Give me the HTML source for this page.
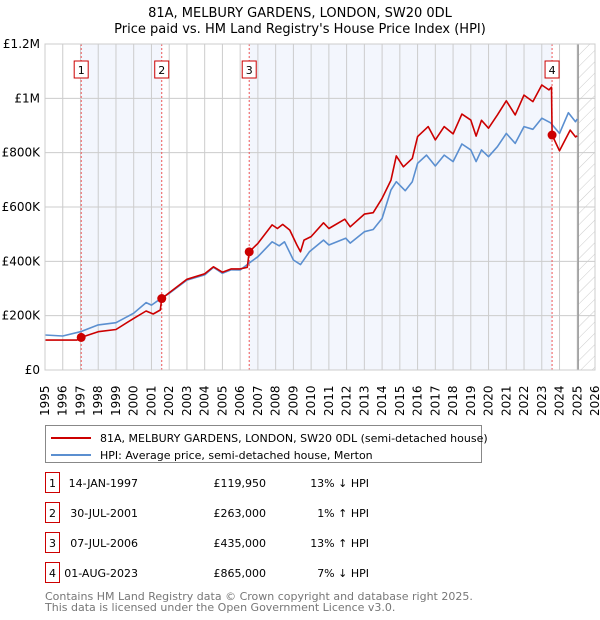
<!DOCTYPE html>
<html><head><meta charset="utf-8">
<style>
body{margin:0;background:#fff;font-family:"DejaVu Sans","Liberation Sans",sans-serif;}
#wrap{position:relative;width:600px;height:620px;overflow:hidden;}
svg text{font-family:"DejaVu Sans","Liberation Sans",sans-serif;}
</style></head><body>
<div id="wrap">
<svg id="c" width="600" height="620" xmlns="http://www.w3.org/2000/svg"></svg>
</div>
<script>
const hpiYears=[1995,1996,1997,1998,1999,2000,2000.7,2001,2001.6,2002,2003,2004,2004.5,2005,2005.5,2006,2006.5,2007,2007.8,2008.2,2008.5,2009,2009.4,2009.9,2010.7,2011,2011.95,2012.2,2013,2013.5,2014,2014.5,2014.8,2015.3,2015.7,2016,2016.5,2017,2017.5,2018,2018.5,2019,2019.3,2019.6,2020,2020.5,2021,2021.5,2022,2022.5,2023,2023.5,2024,2024.5,2024.9,2025];
const hpiValues=[129000,125000,141000,166000,174000,209000,248000,239000,266000,282000,331000,350000,378000,356000,369000,368000,393000,417000,472000,457000,472000,405000,388000,435000,478000,460000,485000,467000,509000,517000,558000,663000,693000,660000,693000,761000,791000,751000,791000,767000,832000,810000,767000,810000,785000,822000,871000,834000,896000,886000,927000,910000,871000,947000,914000,924000];
const propYears=[1995,1996.8,1997.04,1998,1999,2000,2000.7,2001.1,2001.5,2001.58,2002,2003,2004,2004.5,2005,2005.5,2006,2006.4,2006.51,2007,2007.8,2008.1,2008.4,2008.8,2009.2,2009.4,2009.6,2010,2010.7,2011,2011.9,2012.2,2013,2013.5,2014,2014.5,2014.8,2015.2,2015.7,2016,2016.6,2017,2017.5,2018,2018.5,2019,2019.3,2019.6,2020,2020.5,2021,2021.5,2022,2022.5,2023,2023.4,2023.55,2023.58,2024,2024.6,2024.9,2025];
const propValues=[110000,110000,119950,141000,149000,190000,217000,206000,221000,263000,284000,334000,354000,380000,360000,372000,372000,378000,435000,466000,534000,521000,536000,515000,460000,435000,478000,491000,542000,521000,555000,527000,574000,579000,632000,699000,788000,748000,779000,859000,896000,847000,896000,869000,942000,920000,861000,919000,890000,939000,991000,939000,1012000,988000,1049000,1031000,1041000,865000,807000,883000,858000,862000];
const saleLabels=["1","2","3","4"];
const saleYears=[1997.04,2001.58,2006.51,2023.58];
const salePrices=[119950,263000,435000,865000];
const saleDates=["14-JAN-1997","30-JUL-2001","07-JUL-2006","01-AUG-2023"];
const salePriceText=["£119,950","£263,000","£435,000","£865,000"];
const saleHpiText=["13% ↓ HPI","1% ↑ HPI","13% ↑ HPI","7% ↓ HPI"];
const yTicks=[0,200000,400000,600000,800000,1000000,1200000];
const yTickLabels=["£0","£200K","£400K","£600K","£800K","£1M","£1.2M"];
const xTicks=[1995,1996,1997,1998,1999,2000,2001,2002,2003,2004,2005,2006,2007,2008,2009,2010,2011,2012,2013,2014,2015,2016,2017,2018,2019,2020,2021,2022,2023,2024,2025,2026];

const L=45,R=595,T=44,B=370,X0=1995,X1=2026,YMAX=1200000,DATA_END=2025.05;
const sx=v=>L+(v-X0)/(X1-X0)*(R-L);
const sy=v=>B-v/YMAX*(B-T);
const svg=document.getElementById('c');
const NS='http://www.w3.org/2000/svg';
function mk(tag,attrs,parent){const e=document.createElementNS(NS,tag);for(const k in attrs)e.setAttribute(k,attrs[k]);(parent||svg).appendChild(e);return e;}
function txt(s,attrs,parent){const e=mk('text',attrs,parent);e.textContent=s;return e;}

// defs hatch
const defs=mk('defs',{});
const pat=mk('pattern',{id:'hatch',width:8,height:8,patternUnits:'userSpaceOnUse',patternTransform:'rotate(45)'},defs);
mk('line',{x1:0,y1:0,x2:0,y2:8,stroke:'#ccc','stroke-width':1},pat);

// titles
let t=txt('81A, MELBURY GARDENS, LONDON, SW20 0DL',{x:300,y:17,'text-anchor':'middle','font-size':13,fill:'#000'});

t=txt("Price paid vs. HM Land Registry's House Price Index (HPI)",{x:300,y:33,'text-anchor':'middle','font-size':13,fill:'#000'});


// shaded ownership regions
for(let i=0;i<saleYears.length;i+=2){
  const r=mk('rect',{x:sx(saleYears[i]),y:T,width:sx(saleYears[i+1])-sx(saleYears[i]),height:B-T,fill:'#f3f6fd'});
  
}
// hatch future
let h=mk('rect',{x:sx(DATA_END),y:T,width:R-sx(DATA_END),height:B-T,fill:'url(#hatch)'});


// grid
xTicks.forEach(y=>{const g=mk('line',{x1:sx(y),x2:sx(y),y1:T,y2:B,stroke:'#ccc','stroke-width':1});
  
  const lb=txt(String(y),{transform:`translate(${sx(y)+4},${B+46}) rotate(-90)`,'font-size':12,fill:'#000'});
  });
yTicks.forEach((v,i)=>{const g=mk('line',{x1:L,x2:R,y1:sy(v),y2:sy(v),stroke:'#ccc','stroke-width':1});
  
  const lb=txt(yTickLabels[i],{x:L-5,y:sy(v)+4,'text-anchor':'end','font-size':12,fill:'#000'});
  });
let dl=mk('line',{x1:sx(DATA_END),x2:sx(DATA_END),y1:T,y2:B,stroke:'#999','stroke-width':1.5});


// sale vlines + markers
saleYears.forEach((y,i)=>{
  const l=mk('line',{x1:sx(y),x2:sx(y),y1:T,y2:B,stroke:'#e55','stroke-width':1,'stroke-dasharray':'2,2'});
  
  const bx=mk('rect',{x:sx(y)-7,y:61,width:14,height:17,fill:'#fff',stroke:'#c00','stroke-width':1});
  
  const lt=txt(saleLabels[i],{x:sx(y),y:74,'text-anchor':'middle','font-size':11,fill:'#000'});
  
});

function line(xs,vs,color,name){
  const d=xs.map((x,i)=>(i?'L':'M')+sx(x).toFixed(1)+','+sy(vs[i]).toFixed(1)).join('');
  const p=mk('path',{d,fill:'none',stroke:color,'stroke-width':1.6,'stroke-linejoin':'round'});
  
}
line(hpiYears,hpiValues,'#5b8fd0','hpi-line');
line(propYears,propValues,'#cc0000','price-paid-line');
saleYears.forEach((y,i)=>{
  const c=mk('circle',{cx:sx(y),cy:sy(salePrices[i]),r:4.5,fill:'#cc0000'});
  
});
let fr=mk('rect',{x:L,y:T,width:R-L,height:B-T,fill:'none',stroke:'#ccc','stroke-width':1});


// legend
const lg=mk('g',{});
mk('rect',{x:45.5,y:425.5,width:436,height:37,fill:'#fff',stroke:'#888','stroke-width':1},lg);
let e=mk('line',{x1:51,x2:91,y1:438,y2:438,stroke:'#cc0000','stroke-width':2},lg);

e=txt('81A, MELBURY GARDENS, LONDON, SW20 0DL (semi-detached house)',{x:100,y:442,'font-size':11,fill:'#000'},lg);

e=mk('line',{x1:51,x2:91,y1:455,y2:455,stroke:'#5b8fd0','stroke-width':2},lg);

e=txt('HPI: Average price, semi-detached house, Merton',{x:100,y:459,'font-size':11,fill:'#000'},lg);


// table
saleLabels.forEach((s,i)=>{
  const y=483+i*30;
  const g=mk('g',{});
  mk('rect',{x:45.5,y:y-10.5,width:14,height:20,fill:'#fff',stroke:'#c00','stroke-width':1},g);
  txt(s,{x:52.5,y:y+4,'text-anchor':'middle','font-size':11,fill:'#000'},g);
  txt(saleDates[i],{x:138,y:y+4,'text-anchor':'end','font-size':11,fill:'#000'},g);
  txt(salePriceText[i],{x:266,y:y+4,'text-anchor':'end','font-size':11,fill:'#000'},g);
  txt(saleHpiText[i],{x:369,y:y+4,'text-anchor':'end','font-size':11,fill:'#000'},g);
});
e=txt('Contains HM Land Registry data © Crown copyright and database right 2025.',{x:45,y:600,'font-size':11,fill:'#777'});

e=txt('This data is licensed under the Open Government Licence v3.0.',{x:45,y:611,'font-size':11,fill:'#777'});

</script>
</body></html>
